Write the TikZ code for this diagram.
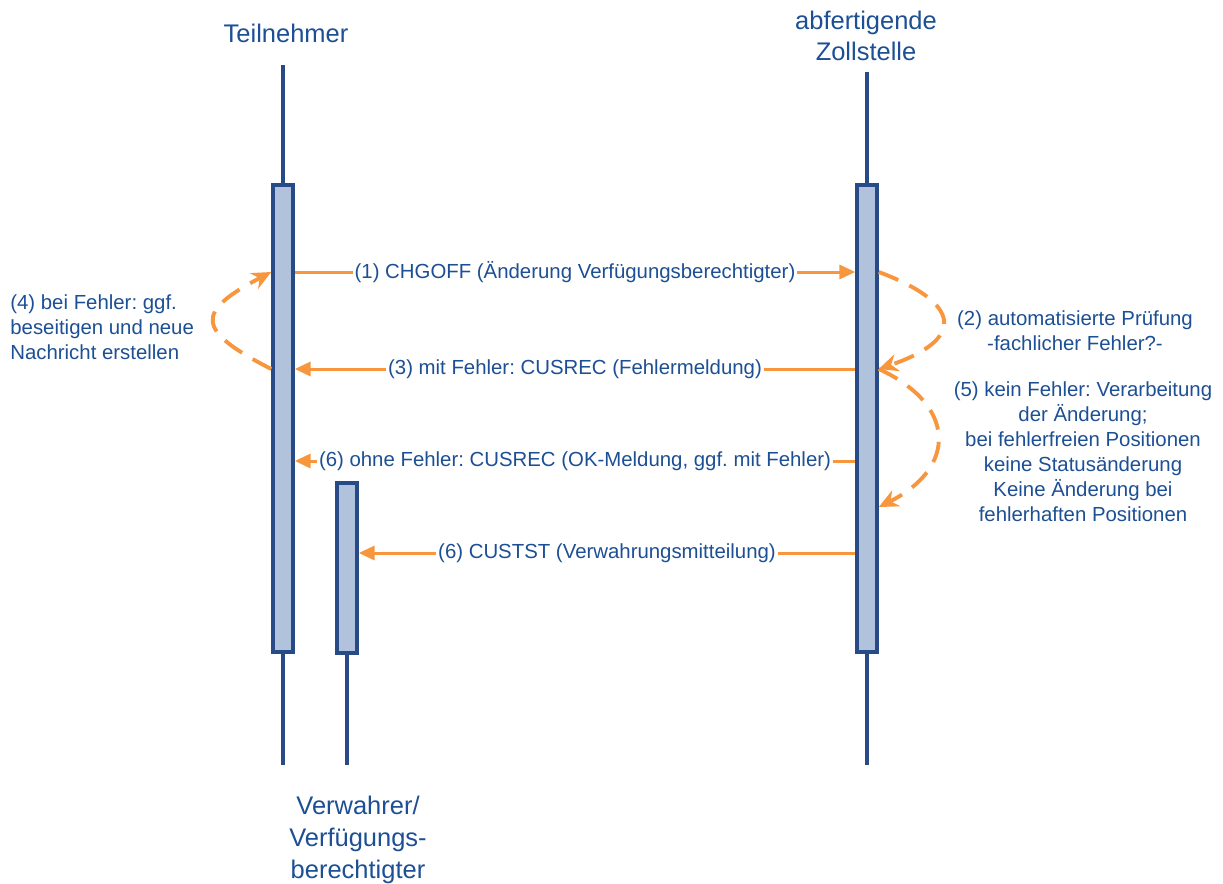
\documentclass[tikz,border=0pt]{standalone}
\usepackage{fontspec}
\setmainfont{Liberation Sans}
\usetikzlibrary{arrows.meta}
\frenchspacing
\definecolor{LifeB}{HTML}{284A86}
\definecolor{BoxF} {HTML}{B0C2DC}
\definecolor{TextB}{HTML}{1C4F94}
\definecolor{Org}  {HTML}{F7963C}
\tikzset{
  head/.style={
    font=\fontsize{14.5}{18}\selectfont, text=TextB,
    align=center, inner sep=0pt,
  },
  act/.style={
    rectangle, draw=LifeB, fill=BoxF, line width=2pt,
    minimum width=0.4cm, minimum height=#1, inner sep=0pt,
  },
  life/.style={draw=LifeB, line width=2pt},
  msg/.style={
    -{Triangle[length=9pt,width=8pt]},
    draw=Org, line width=1.7pt,
  },
  loopback/.style={
    -{Stealth[length=11pt,width=10pt]},
    draw=Org, line width=2.2pt, dash pattern=on 12pt off 7pt,
  },
  lbl/.style={
    font=\fontsize{11.6}{14.2}\selectfont, text=TextB,
    fill=white, inner sep=1pt,
  },
  note/.style={
    font=\fontsize{11.6}{14.2}\selectfont, text=TextB, inner sep=0pt,
  },
}
\begin{document}
\begin{tikzpicture}[x=0.02cm,y=-0.02cm]
  \useasboundingbox (0,0) rectangle (1223,883);
  % participants
  \node[head] (tn) at (286,33) {Teilnehmer};
  \node[head] (zs) at (866,36) {abfertigende\\Zollstelle};
  \node[head] (vw) at (358,840) {Verwahrer/\\Verfügungs-\\berechtigter};
  % activation boxes
  \node[act=9.34cm] (tnBox) at (283,418.5) {};
  \node[act=9.34cm] (zsBox) at (867,418.5) {};
  \node[act=3.4cm]  (vwBox) at (347,568) {};
  \coordinate (tnTop) at (283,65);  \coordinate (tnBot) at (283,765);
  \coordinate (zsTop) at (867,72);  \coordinate (zsBot) at (867,765);
  \coordinate (vwBot) at (347,765);
  \draw[life] (tnTop) -- (tnBox.north);  \draw[life] (tnBox.south) -- (tnBot);
  \draw[life] (zsTop) -- (zsBox.north);  \draw[life] (zsBox.south) -- (zsBot);
  \draw[life] (vwBox.south) -- (vwBot);
  % message heights
  \coordinate (y1) at (0,272);
  \coordinate (y3) at (0,369);
  \coordinate (y6) at (0,461);
  \coordinate (y5) at (0,507);
  \coordinate (y7) at (0,553);
  % messages
  \draw[msg] (tnBox.east |- y1) -- node[lbl] {(1) CHGOFF (Änderung Verfügungsberechtigter)} (zsBox.west |- y1);
  \draw[msg] (zsBox.west |- y3) -- node[lbl] {(3) mit Fehler: CUSREC (Fehlermeldung)} (tnBox.east |- y3);
  \draw[msg] (zsBox.west |- y6) -- node[lbl] {(6) ohne Fehler: CUSREC (OK-Meldung, ggf. mit Fehler)} (tnBox.east |- y6);
  \draw[msg] (zsBox.west |- y7) -- node[lbl] {(6) CUSTST (Verwahrungsmitteilung)} (vwBox.east |- y7);
  % self loops
  \draw[loopback] (tnBox.west |- y3) .. controls (195,330) and (195,312) .. (tnBox.west |- y1);
  \draw[loopback] (zsBox.east |- y1) .. controls (964,304) and (964,340) .. (zsBox.east |- y3);
  \draw[loopback] (zsBox.east |- y3) .. controls (957,405) and (957,468) .. (zsBox.east |- y5);
  % notes
  \node[note, anchor=west, align=left] (n4) at (10,327.5)
    {(4) bei Fehler: ggf.\\beseitigen und neue\\Nachricht erstellen};
  \node[note, align=center] (n2) at (1075,331)
    {(2) automatisierte Prüfung\\-fachlicher Fehler?-};
  \node[note, align=center] (n5) at (1083,452)
    {(5) kein Fehler: Verarbeitung\\der Änderung;\\bei fehlerfreien Positionen\\keine Statusänderung\\Keine Änderung bei\\fehlerhaften Positionen};
\end{tikzpicture}
\end{document}
